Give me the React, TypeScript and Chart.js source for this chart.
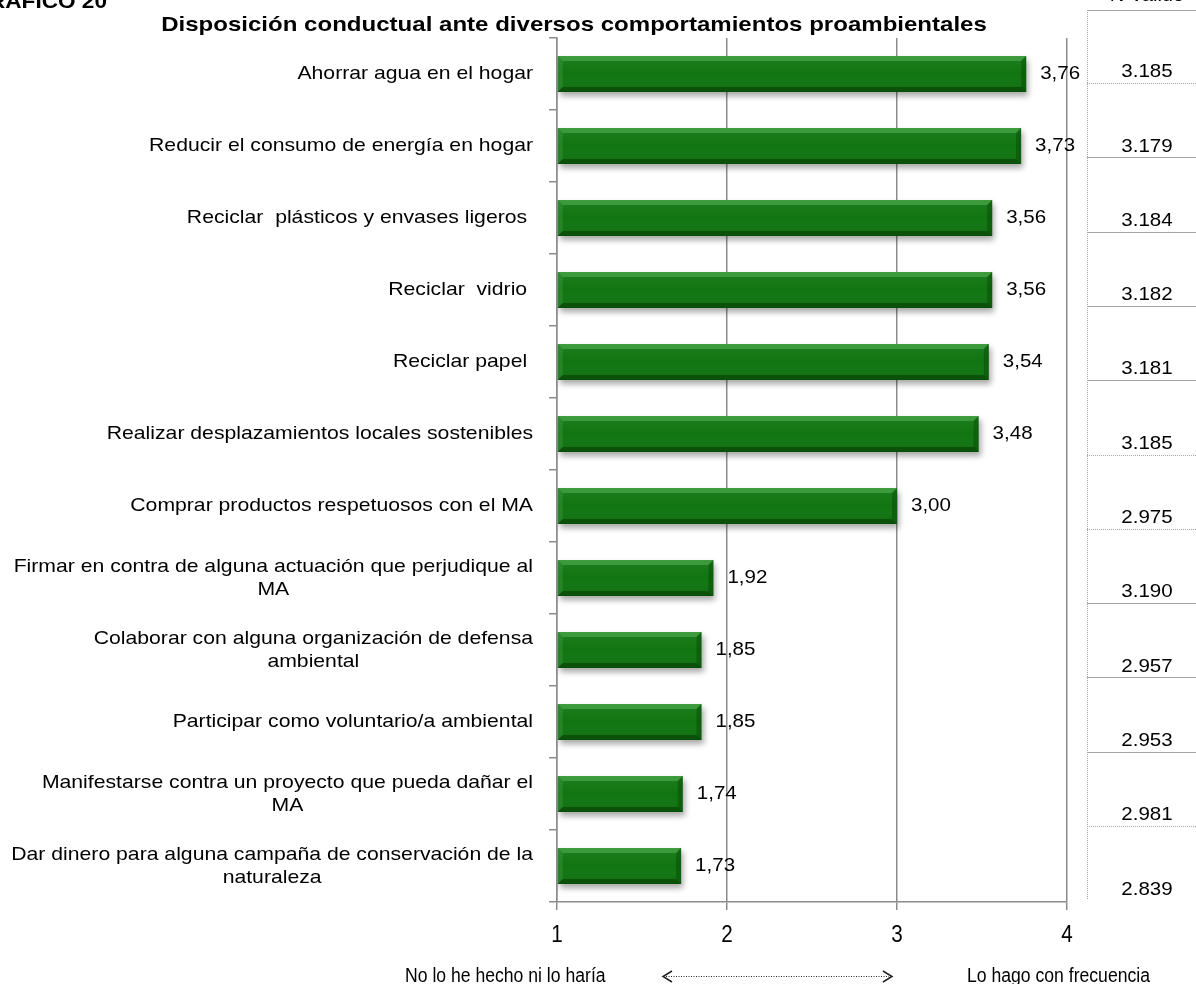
import React, { useEffect, useRef } from "react";
import { Chart, registerables } from "chart.js";

Chart.register(...registerables);

// ---------- data ----------
const categories: (string | string[])[] = [
  "Ahorrar agua en el hogar",
  "Reducir el consumo de energía en hogar",
  "Reciclar  plásticos y envases ligeros ",
  "Reciclar  vidrio ",
  "Reciclar papel ",
  "Realizar desplazamientos locales sostenibles",
  "Comprar productos respetuosos con el MA",
  ["Firmar en contra de alguna actuación que perjudique al", "MA"],
  ["Colaborar con alguna organización de defensa", "ambiental"],
  "Participar como voluntario/a ambiental",
  ["Manifestarse contra un proyecto que pueda dañar el", "MA"],
  ["Dar dinero para alguna campaña de conservación de la", "naturaleza"],
];
const meanValues = [3.76, 3.73, 3.56, 3.56, 3.54, 3.48, 3.0, 1.92, 1.85, 1.85, 1.74, 1.73];
const nValido = [3185, 3179, 3184, 3182, 3181, 3185, 2975, 3190, 2957, 2953, 2981, 2839];
const xTickValues = [1, 2, 3, 4];
const chartTitle = "Disposición conductual ante diversos comportamientos proambientales";
const figureLabel = "GRAFICO 20";
const tableHeader = "N Valido";
const scaleLowLabel = "No lo he hecho ni lo haría";
const scaleHighLabel = "Lo hago con frecuencia";

// ---------- styles ----------
const SANS = "'Liberation Sans', Arial, sans-serif";
const SX = 1.115; // horizontal text stretch seen in the reference
const NARROW_SX = 0.88; // condensed look for the axis texts
const GRID = "#8c8c8c";

function drawText(
  ctx: CanvasRenderingContext2D,
  text: string,
  x: number,
  y: number,
  align: CanvasTextAlign,
  font: string,
  sx = SX,
  color = "#000"
) {
  ctx.save();
  ctx.font = font;
  ctx.fillStyle = color;
  ctx.textBaseline = "middle";
  ctx.textAlign = align;
  ctx.translate(x, y);
  ctx.scale(sx, 1);
  ctx.fillText(text, 0, 0);
  ctx.restore();
}

function measure(ctx: CanvasRenderingContext2D, text: string, font: string, sx = SX) {
  ctx.save();
  ctx.font = font;
  const w = ctx.measureText(text).width * sx;
  ctx.restore();
  return w;
}

const fmtMean = (v: number) => v.toFixed(2).replace(".", ",");
const fmtN = (n: number) => {
  const s = String(n);
  return s.length > 3 ? s.slice(0, s.length - 3) + "." + s.slice(s.length - 3) : s;
};

const decorPlugin = {
  id: "decor",
  beforeDatasetsDraw(chart: any) {
    const ctx = chart.ctx as CanvasRenderingContext2D;
    ctx.save();
    ctx.shadowColor = "rgba(0,0,0,0.35)";
    ctx.shadowBlur = 6;
    ctx.shadowOffsetX = 2;
    ctx.shadowOffsetY = 4;
  },
  afterDatasetsDraw(chart: any) {
    const ctx = chart.ctx as CanvasRenderingContext2D;
    ctx.restore();
    const meta = chart.getDatasetMeta(0);
    const b = 5;
    meta.data.forEach((el: any, idx: number) => {
      const p = el.getProps(["x", "y", "base", "height"], true);
      const left = Math.min(p.base, p.x);
      const right = Math.max(p.base, p.x);
      const top = p.y - p.height / 2;
      const bottom = p.y + p.height / 2;
      const poly = (pts: number[][], fill: string) => {
        ctx.beginPath();
        ctx.moveTo(pts[0][0], pts[0][1]);
        for (let i = 1; i < pts.length; i++) ctx.lineTo(pts[i][0], pts[i][1]);
        ctx.closePath();
        ctx.fillStyle = fill;
        ctx.fill();
      };
      ctx.save();
      const g = ctx.createLinearGradient(0, top, 0, bottom);
      g.addColorStop(0, "rgba(255,255,255,0.06)");
      g.addColorStop(0.5, "rgba(255,255,255,0)");
      g.addColorStop(1, "rgba(0,0,0,0.08)");
      ctx.fillStyle = g;
      ctx.fillRect(left, top, right - left, bottom - top);
      poly([[left, top], [right, top], [right - b, top + b], [left + b, top + b]], "rgba(110,200,110,0.40)");
      poly([[left, bottom], [right, bottom], [right - b, bottom - b], [left + b, bottom - b]], "rgba(0,35,0,0.40)");
      poly([[right, top], [right, bottom], [right - b, bottom - b], [right - b, top + b]], "rgba(0,45,0,0.30)");
      poly([[left, top], [left, bottom], [left + b, bottom - b], [left + b, top + b]], "rgba(100,190,100,0.22)");
      ctx.restore();
      drawText(ctx, fmtMean(meanValues[idx]), right + 14, p.y, "left", `19px ${SANS}`, 1.08);
    });
  },
  afterDraw(chart: any) {
    const ctx = chart.ctx as CanvasRenderingContext2D;
    const yScale = chart.scales.y;
    const xScale = chart.scales.x;

    // category labels
    const labFont = `19px ${SANS}`;
    const rightX = 533;
    const lh = 23;
    categories.forEach((lab, i) => {
      const y = yScale.getPixelForValue(i);
      const lines = Array.isArray(lab) ? lab : [lab];
      if (lines.length === 1) {
        drawText(ctx, lines[0], rightX, y, "right", labFont);
      } else {
        const bw = Math.max(...lines.map((l) => measure(ctx, l, labFont)));
        const cx = rightX - bw / 2;
        lines.forEach((l, j) => {
          drawText(ctx, l, cx, y + (j - (lines.length - 1) / 2) * lh, "center", labFont);
        });
      }
    });

    // x tick labels (condensed)
    xTickValues.forEach((v) => {
      drawText(ctx, String(v), xScale.getPixelForValue(v), 935, "center", `24px ${SANS}`, 0.86);
    });

    // title & figure label
    drawText(ctx, chartTitle, 574, 25, "center", `bold 21px ${SANS}`, 1.145);
    drawText(ctx, figureLabel, 107, 2, "right", `bold 20px ${SANS}`, 1.13);

    // N valido table
    const tableX = 1087;
    const rowH = 74.3;
    ctx.save();
    ctx.strokeStyle = "#a6a6a6";
    ctx.lineWidth = 1;
    ctx.setLineDash([1, 1]);
    ctx.beginPath();
    ctx.moveTo(tableX + 0.5, 10);
    ctx.lineTo(tableX + 0.5, 900);
    ctx.stroke();
    ctx.setLineDash([]);
    ctx.beginPath();
    ctx.moveTo(tableX, 10.5);
    ctx.lineTo(1196, 10.5);
    ctx.stroke();
    for (let k = 0; k < nValido.length - 1; k++) {
      const ly = Math.round(83 + k * rowH) + 0.5;
      ctx.setLineDash(k % 5 === 0 || k === 6 ? [1, 1] : []);
      ctx.beginPath();
      ctx.moveTo(tableX, ly);
      ctx.lineTo(1196, ly);
      ctx.stroke();
    }
    ctx.restore();
    drawText(ctx, tableHeader, 1147, -4, "center", `18px ${SANS}`);
    nValido.forEach((n, i) => {
      drawText(ctx, fmtN(n), 1147, 72 + i * rowH, "center", `19px ${SANS}`, 1.08);
    });

    // bottom scale description
    const by = 976;
    drawText(ctx, scaleLowLabel, 405, by, "left", `20px ${SANS}`, NARROW_SX);
    drawText(ctx, scaleHighLabel, 967, by, "left", `20px ${SANS}`, NARROW_SX);
    ctx.save();
    ctx.strokeStyle = "#222";
    ctx.lineWidth = 1;
    ctx.setLineDash([1, 1.5]);
    ctx.beginPath();
    ctx.moveTo(666, by + 0.5);
    ctx.lineTo(889, by + 0.5);
    ctx.stroke();
    ctx.setLineDash([]);
    ctx.lineWidth = 1.5;
    ctx.beginPath();
    ctx.moveTo(672, by - 5);
    ctx.lineTo(663, by + 0.5);
    ctx.lineTo(672, by + 6);
    ctx.moveTo(883, by - 5);
    ctx.lineTo(892, by + 0.5);
    ctx.lineTo(883, by + 6);
    ctx.stroke();
    ctx.restore();
  },
};

export default function App() {
  const ref = useRef<HTMLCanvasElement | null>(null);
  useEffect(() => {
    if (!ref.current) return;
    const chart = new Chart(ref.current, {
      type: "bar",
      data: {
        labels: categories as any,
        datasets: [
          {
            data: meanValues,
            base: 1,
            backgroundColor: "#107510",
            borderWidth: 0,
            barPercentage: 0.5,
            categoryPercentage: 1,
          } as any,
        ],
      },
      options: {
        animation: false,
        responsive: false,
        indexAxis: "y",
        layout: { padding: { top: 38, right: 129, left: 0, bottom: 0 } },
        plugins: {
          legend: { display: false },
          tooltip: { enabled: false },
          title: { display: false },
        },
        scales: {
          x: {
            type: "linear",
            min: 1,
            max: 4,
            afterBuildTicks: (s: any) => {
              s.ticks = xTickValues.map((v) => ({ value: v }));
            },
            grid: { color: GRID, lineWidth: 1.5, drawTicks: true, tickLength: 8, tickColor: GRID },
            border: { color: GRID, width: 1.5 },
            ticks: { color: "rgba(0,0,0,0)", callback: () => "" },
            afterFit: (s: any) => {
              s.height = 82;
            },
          },
          y: {
            type: "category",
            offset: true,
            grid: { offset: true, drawOnChartArea: false, drawTicks: true, tickLength: 8, color: GRID, lineWidth: 1.5 },
            border: { color: GRID, width: 1.5 },
            ticks: { display: true, color: "rgba(0,0,0,0)", callback: () => "" },
            afterFit: (s: any) => {
              s.width = 557;
            },
          },
        } as any,
      },
      plugins: [decorPlugin],
    });
    return () => chart.destroy();
  }, []);
  return (
    <div style={{ position: "fixed", left: 0, top: 0, width: 1196, height: 984, background: "#fff" }}>
      <canvas ref={ref} width={1196} height={984} style={{ display: "block" }} />
    </div>
  );
}
